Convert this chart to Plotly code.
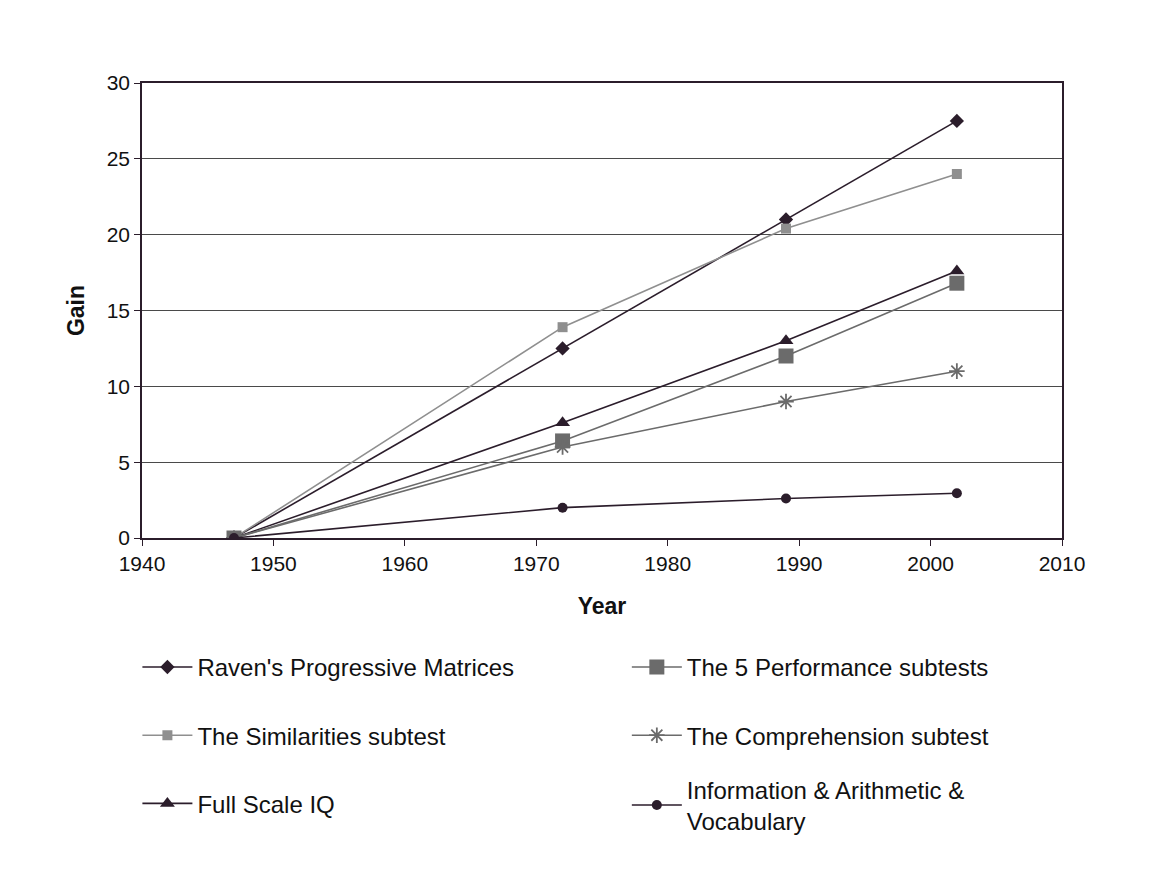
import plotly.graph_objects as go

anos = [1947, 1972, 1989, 2002]

ravens = [0, 12.5, 21.0, 27.5]
similarities = [0, 13.9, 20.4, 24.0]
full_scale = [0, 7.6, 13.0, 17.6]
performance = [0, 6.4, 12.0, 16.8]
comprehension = [0, 6.0, 9.0, 11.0]
info_arit_vocab = [0, 2.0, 2.6, 2.95]

escuro = "#2b1d2b"
cinza_claro = "#8f8f8f"
cinza_medio = "#6b6b6b"

fig = go.Figure()

# coluna da esquerda do legend
fig.add_trace(go.Scatter(
    x=anos, y=ravens, name="Raven's Progressive Matrices", legend="legend", legendgroup="a",
    mode="lines+markers", line=dict(color=escuro, width=1.6),
    marker=dict(symbol="diamond", size=11, color=escuro)
))
fig.add_trace(go.Scatter(
    x=anos, y=similarities, name="The Similarities subtest", legend="legend", legendgroup="b",
    mode="lines+markers", line=dict(color=cinza_claro, width=1.6),
    marker=dict(symbol="square", size=10, color=cinza_claro)
))
fig.add_trace(go.Scatter(
    x=anos, y=full_scale, name="Full Scale IQ", legend="legend", legendgroup="c",
    mode="lines+markers", line=dict(color=escuro, width=1.6),
    marker=dict(symbol="triangle-up", size=13, color=escuro)
))

# coluna da direita
fig.add_trace(go.Scatter(
    x=anos, y=performance, name="The 5 Performance subtests", legend="legend2", legendgroup="d",
    mode="lines+markers", line=dict(color=cinza_medio, width=1.6),
    marker=dict(symbol="square", size=15, color=cinza_medio)
))
fig.add_trace(go.Scatter(
    x=anos, y=comprehension, name="The Comprehension subtest", legend="legend2", legendgroup="e",
    mode="lines+markers", line=dict(color=cinza_medio, width=1.6),
    marker=dict(symbol="asterisk-open", size=13, color=cinza_medio, line=dict(width=1.8, color=cinza_medio))
))
# este fica num legend separado por causa das duas linhas
fig.add_trace(go.Scatter(
    x=anos, y=info_arit_vocab, name="Information & Arithmetic &<br>Vocabulary", legend="legend3", legendgroup="f",
    mode="lines+markers", line=dict(color=escuro, width=1.6),
    marker=dict(symbol="circle", size=10, color=escuro)
))

fonte = dict(family="Liberation Sans, Arial, sans-serif", size=21, color="#111111")

fig.update_layout(
    width=1163,
    height=878,
    template="plotly_white",
    paper_bgcolor="white",
    plot_bgcolor="white",
    font=fonte,
    margin=dict(l=134, r=109, t=75, b=348),
    xaxis=dict(
        title=dict(text="<b>Year</b>", font=dict(size=23), standoff=24),
        range=[1940, 2010],
        tickmode="array",
        tickvals=[1940, 1950, 1960, 1970, 1980, 1990, 2000, 2010],
        showgrid=False,
        zeroline=False,
        showline=True, linecolor=escuro, linewidth=1.5, mirror=True,
        ticks="outside", ticklen=6, tickcolor=escuro,
    ),
    yaxis=dict(
        title=dict(text="<b>Gain</b>", font=dict(size=23), standoff=16),
        range=[0, 30],
        tickmode="array",
        tickvals=[0, 5, 10, 15, 20, 25, 30],
        showgrid=True, gridcolor="#4a4a4a", gridwidth=1,
        zeroline=False,
        showline=True, linecolor=escuro, linewidth=1.5, mirror=True,
        ticks="outside", ticklen=6, tickcolor=escuro,
    ),
    showlegend=True,
    legend=dict(
        x=-0.005, y=-0.235, xanchor="left", yanchor="top",
        font=dict(size=24), itemwidth=50, tracegroupgap=34,
        bgcolor="rgba(0,0,0,0)",
    ),
    legend2=dict(
        x=0.527, y=-0.235, xanchor="left", yanchor="top",
        font=dict(size=24), itemwidth=50, tracegroupgap=34,
        bgcolor="rgba(0,0,0,0)",
    ),
    legend3=dict(
        x=0.527, y=-0.504, xanchor="left", yanchor="top",
        font=dict(size=24), itemwidth=50,
        bgcolor="rgba(0,0,0,0)",
    ),
)

fig.write_html("out.html")
